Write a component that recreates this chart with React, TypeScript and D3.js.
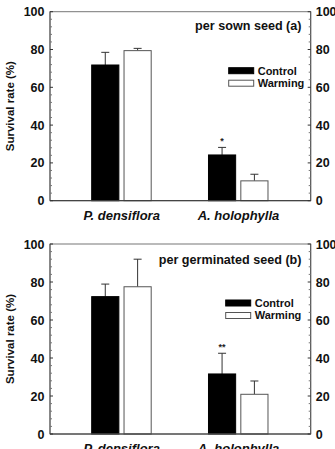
import React from "react";
import * as d3 from "d3";

const species = ["P. densiflora", "A. holophylla"];
const treatments = ["Control", "Warming"];
const yTicks = [0, 20, 40, 60, 80, 100];

// panel a: per sown seed
const sownMean = [[71.8, 79.4], [24.2, 10.5]];
const sownErr = [[6.7, 1.2], [4.0, 3.5]];
const sownSig = ["", "*"];

// panel b: per germinated seed
const germMean = [[72.3, 77.5], [31.6, 20.9]];
const germErr = [[6.6, 14.5], [10.9, 7.0]];
const germSig = ["", "**"];

const panels = [
  { title: "per sown seed (a)", means: sownMean, errs: sownErr, sig: sownSig, top: 11.7, bottom: 200.7, legendY: 70.7, titleY: 26, legendX: 228.7 },
  { title: "per germinated seed (b)", means: germMean, errs: germErr, sig: germSig, top: 244, bottom: 434, legendY: 303, titleY: 259.5, legendX: 225.7 },
];

const FONT = "Liberation Sans, Arial, sans-serif";
const AX = "#333";

function Panel({ p }: { p: typeof panels[number] }) {
  const left = 50, right = 310.7;
  const y = d3.scaleLinear().domain([0, 100]).range([p.bottom, p.top]);
  const xc = d3.scalePoint().domain(species).range([left + 0.275 * (right - left), left + 0.723 * (right - left)]);
  const x1 = d3.scaleBand().domain(treatments).range([-30, 29.5]).paddingInner(0.16);
  const bw = x1.bandwidth();
  const minor = d3.range(0, 101, 4).filter((v) => v % 20 !== 0);
  return (
    <g>
      {species.map((s, i) =>
        treatments.map((t, j) => {
          const bx = (xc(s) as number) + (x1(t) as number);
          const v = p.means[i][j];
          const e = p.errs[i][j];
          const cx = bx + bw / 2;
          return (
            <g key={s + t}>
              <line x1={cx} x2={cx} y1={y(v)} y2={y(v + e)} stroke={AX} strokeWidth={1} />
              <line x1={cx - 4} x2={cx + 4} y1={y(v + e)} y2={y(v + e)} stroke={AX} strokeWidth={1} />
              <rect x={bx} y={y(v)} width={bw} height={y(0) - y(v)} fill={j === 0 ? "#000" : "#fff"} stroke={j === 0 ? "#000" : "#555"} strokeWidth={1} />
              {j === 0 && p.sig[i] && (
                <text x={cx} y={y(v + e) - 3} textAnchor="middle" fontSize={9} fontWeight="bold" fontFamily={FONT} fill="#222">{p.sig[i]}</text>
              )}
            </g>
          );
        })
      )}
      <rect x={left} y={p.top} width={right - left} height={p.bottom - p.top} fill="none" stroke="#777" strokeWidth={1} />
      <line x1={left} x2={right} y1={p.bottom} y2={p.bottom} stroke={AX} strokeWidth={1} />
      <line x1={left} x2={left} y1={p.top} y2={p.bottom} stroke="#555" strokeWidth={1} />
      <line x1={right} x2={right} y1={p.top} y2={p.bottom} stroke="#555" strokeWidth={1} />
      {yTicks.map((v) => (
        <g key={v}>
          <line x1={left} x2={left + 3} y1={y(v)} y2={y(v)} stroke={AX} />
          <line x1={right} x2={right - 3} y1={y(v)} y2={y(v)} stroke={AX} />
          <text x={left - 5.5} y={y(v)} dy="0.36em" textAnchor="end" fontSize={12.5} fontWeight="bold" fontFamily={FONT} fill="#111">{v}</text>
          <text x={right + 5} y={y(v)} dy="0.36em" textAnchor="start" fontSize={12.5} fontWeight="bold" fontFamily={FONT} fill="#111">{v}</text>
        </g>
      ))}
      {minor.map((v) => (
        <g key={"m" + v}>
          <line x1={left} x2={left + 2} y1={y(v)} y2={y(v)} stroke="#777" />
          <line x1={right} x2={right - 2} y1={y(v)} y2={y(v)} stroke="#777" />
        </g>
      ))}
      {species.map((s) => (
        <text key={s} x={xc(s)} y={p.bottom + 19} textAnchor="middle" fontSize={13} fontWeight="bold" fontStyle="italic" fontFamily={FONT} fill="#111">{s}</text>
      ))}
      <text transform={`translate(14,${(p.top + p.bottom) / 2}) rotate(-90)`} textAnchor="middle" fontSize={11.5} fontWeight="bold" fontFamily={FONT} fill="#111">Survival rate (%)</text>
      <text x={301.5} y={p.titleY} dy="0.35em" textAnchor="end" fontSize={12.6} fontWeight="bold" fontFamily={FONT} fill="#111">{p.title}</text>
      {treatments.map((t, j) => {
        const ly = p.legendY + j * 12.5;
        const lx = p.legendX;
        return (
          <g key={t}>
            <rect x={lx} y={ly - 3} width={25} height={6} fill={j === 0 ? "#000" : "#fff"} stroke={j === 0 ? "#000" : "#555"} strokeWidth={1} />
            <text x={lx + 29} y={ly} dy="0.35em" fontSize={11} fontWeight="bold" fontFamily={FONT} fill="#111">{t}</text>
          </g>
        );
      })}
    </g>
  );
}

export default function App() {
  return (
    <svg width={335} height={449} style={{ position: "absolute", left: 0, top: 0, background: "#fff" }}>
      <rect width={335} height={449} fill="#fff" />
      {panels.map((p) => (
        <Panel key={p.title} p={p} />
      ))}
    </svg>
  );
}
